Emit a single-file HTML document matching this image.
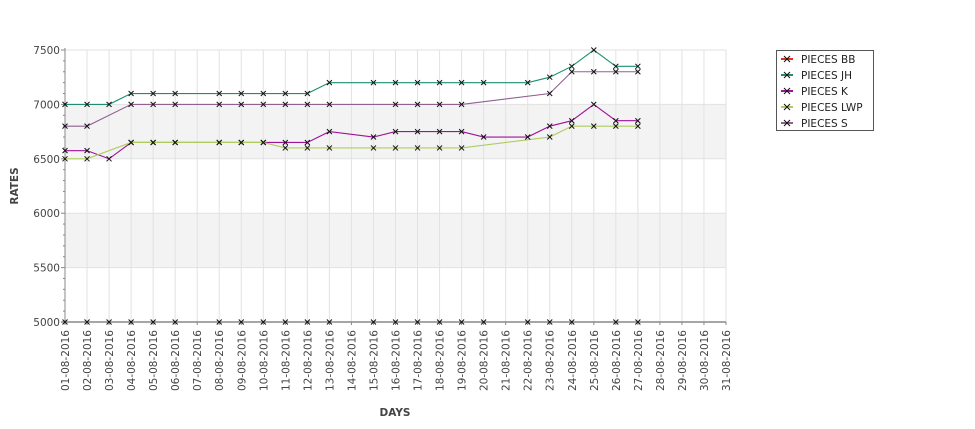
<!DOCTYPE html>
<html><head><meta charset="utf-8"><style>
body{margin:0;background:#fff;}
svg{display:block;font-family:"DejaVu Sans","Liberation Sans",sans-serif;}
</style></head><body>
<svg id="chart" width="975" height="429" viewBox="0 0 975 429" xmlns="http://www.w3.org/2000/svg"></svg>
<script>
const days = [];
for (let d = 1; d <= 31; d++) days.push((d < 10 ? '0' + d : '' + d) + '-08-2016');
const yTicks = [5000, 5500, 6000, 6500, 7000, 7500];
const seriesNames = ['PIECES BB', 'PIECES JH', 'PIECES K', 'PIECES LWP', 'PIECES S'];
const seriesColors = ['#e0301e', '#1a9070', '#a0109a', '#b0cc60', '#906090'];
const N = null;
const bbValues  = [5000,5000,5000,5000,5000,5000,N,5000,5000,5000,5000,5000,5000,N,5000,5000,5000,5000,5000,5000,N,5000,5000,5000,N,5000,5000];
const jhValues  = [7000,7000,7000,7100,7100,7100,N,7100,7100,7100,7100,7100,7200,N,7200,7200,7200,7200,7200,7200,N,7200,7250,7350,7500,7350,7350];
const kValues   = [6575,6575,6500,6650,6650,6650,N,6650,6650,6650,6650,6650,6750,N,6700,6750,6750,6750,6750,6700,N,6700,6800,6850,7000,6850,6850];
const lwpValues = [6500,6500,N,6650,6650,6650,N,6650,6650,6650,6600,6600,6600,N,6600,6600,6600,6600,6600,N,N,N,6700,6800,6800,6800,6800];
const sValues   = [6800,6800,N,7000,7000,7000,N,7000,7000,7000,7000,7000,7000,N,N,7000,7000,7000,7000,N,N,N,7100,7300,7300,7300,7300];
const allSeries = [bbValues, jhValues, kValues, lwpValues, sValues];

const svg = document.getElementById('chart');
const NS = 'http://www.w3.org/2000/svg';
const L = 65, R = 726, T = 50, B = 322;
const xScale = i => L + i * (R - L) / 30;
const yScale = v => B - (v - 5000) * (B - T) / 2500;
function mk(tag, attrs, parent) {
  const e = document.createElementNS(NS, tag);
  for (const k in attrs) e.setAttribute(k, attrs[k]);
  (parent || svg).appendChild(e);
  return e;
}
for (const [a, b] of [[6500, 7000], [5500, 6000]]) {
  const r = mk('rect', {x: L, y: yScale(b), width: R - L, height: yScale(a) - yScale(b), fill: '#f3f3f3'});
  
  
}
days.forEach((d, i) => {
  const g = mk('line', {x1: xScale(i), x2: xScale(i), y1: T, y2: B, stroke: '#e2e2e2', 'stroke-width': 1});
  
  
});
yTicks.forEach(v => {
  const g = mk('line', {x1: L, x2: R, y1: yScale(v), y2: yScale(v), stroke: '#e2e2e2', 'stroke-width': 1});
  
  
});
for (let v = 5000; v <= 7500; v += 100) {
  const major = v % 500 === 0;
  const t = mk('line', {x1: L - (major ? 4 : 2), x2: L, y1: yScale(v), y2: yScale(v), stroke: '#888'});
  
  
}
yTicks.forEach(v => {
  const t = mk('text', {x: L - 5, y: yScale(v) + 4, 'text-anchor': 'end', 'font-size': 10.5, fill: '#444'});
  t.textContent = v;
  
  
});
days.forEach((d, i) => {
  const x = xScale(i);
  const tk = mk('line', {x1: x, x2: x, y1: B, y2: B + 3, stroke: '#888'});
  
  
  const t = mk('text', {x: 0, y: 0, 'text-anchor': 'end', 'font-size': 10.5, fill: '#444', transform: `translate(${x + 4},${B + 8}) rotate(-90)`});
  t.textContent = d;
  
  
});
const yt = mk('text', {x: 0, y: 0, 'text-anchor': 'middle', 'font-size': 10.5, 'font-weight': 'bold', fill: '#444', transform: `translate(18,186) rotate(-90)`});
yt.textContent = 'RATES';


const xt = mk('text', {x: 395, y: 416, 'text-anchor': 'middle', 'font-size': 10.5, 'font-weight': 'bold', fill: '#444'});
xt.textContent = 'DAYS';


function marker(x, y, parent) {
  const m = mk('path', {d: `M${x-2.5},${y-2.5}L${x+2.5},${y+2.5}M${x-2.5},${y+2.5}L${x+2.5},${y-2.5}`, stroke: '#111', 'stroke-width': 1}, parent);
  
  
}
allSeries.forEach((vals, s) => {
  const g = mk('g', {});
  
  
  const pts = [];
  vals.forEach((v, i) => { if (v !== null) pts.push([xScale(i), yScale(v)]); });
  const p = mk('polyline', {points: pts.map(p => p.join(',')).join(' '), fill: 'none', stroke: seriesColors[s], 'stroke-width': 1.1}, g);
  
  
});
// axes drawn over lines
const ya = mk('line', {x1: L, x2: L, y1: T - 2, y2: B, stroke: '#888'});


const xa = mk('line', {x1: L - 4, x2: R, y1: B, y2: B, stroke: '#888', 'stroke-width': 1.6});


allSeries.forEach((vals, s) => {
  const g = mk('g', {});
  
  
  vals.forEach((v, i) => { if (v !== null) marker(xScale(i), yScale(v), g); });
});
const lg = mk('g', {});


const lr = mk('rect', {x: 776.5, y: 50.5, width: 97, height: 80, fill: '#fff', stroke: '#555'}, lg);


seriesNames.forEach((n, i) => {
  const y = 59 + i * 16;
  const e = mk('g', {}, lg);
  
  
  mk('line', {x1: 781, x2: 793, y1: y, y2: y, stroke: seriesColors[i], 'stroke-width': 2}, e);
  mk('path', {d: `M${784},${y-3}L${790},${y+3}M${784},${y+3}L${790},${y-3}`, stroke: '#111'}, e);
  const t = mk('text', {x: 801, y: y + 4, 'font-size': 10.5, fill: '#222'}, e);
  t.textContent = n;
});
</script>
</body></html>
